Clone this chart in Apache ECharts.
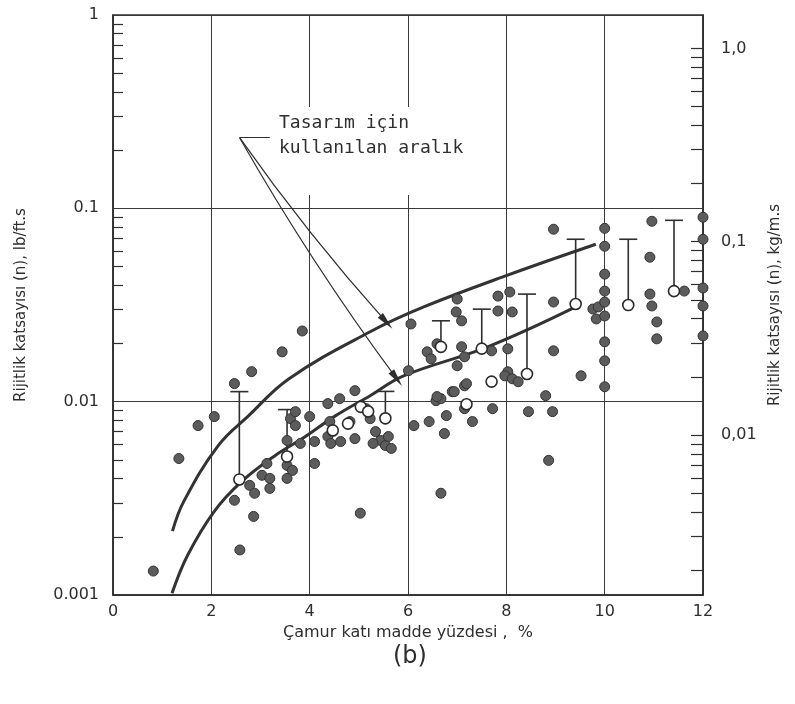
<!DOCTYPE html>
<html>
<head>
<meta charset="utf-8">
<script src="https://cdn.jsdelivr.net/npm/echarts@6/dist/echarts.min.js"></script>
<style>
  html, body { margin: 0; padding: 0; background: #fff; }
  #chart { width: 795px; height: 704px; }
</style>
</head>
<body>
<div id="chart"></div>
<script>
// Measured points (solids %, stiffness coefficient n in lb/ft.s)
const filledDots = [
  [0.82, 0.00133], [1.34, 0.00508], [1.73, 0.00752], [2.06, 0.00837], [2.47, 0.0124],
  [2.82, 0.0143], [3.44, 0.0181], [3.85, 0.0232], [2.47, 0.00309], [2.86, 0.00255],
  [2.58, 0.00171], [5.03, 0.00265], [2.78, 0.00369], [2.88, 0.00336], [3.03, 0.00416],
  [3.13, 0.00479], [3.19, 0.00401], [3.19, 0.00356], [3.54, 0.00468], [3.65, 0.00441],
  [3.54, 0.00401], [3.54, 0.0063], [3.81, 0.00608], [3.61, 0.00817], [3.71, 0.00888],
  [3.71, 0.00752], [4.00, 0.00837], [4.10, 0.00622], [4.10, 0.00479], [4.37, 0.00977],
  [4.37, 0.0066], [4.43, 0.00608], [4.41, 0.00789], [4.61, 0.01036], [4.92, 0.0114],
  [4.92, 0.00644], [4.63, 0.00622], [4.82, 0.00789], [5.15, 0.0092], [5.23, 0.00817],
  [5.34, 0.0070], [5.44, 0.0063], [5.54, 0.00593], [5.66, 0.00573], [5.60, 0.0066],
  [5.29, 0.00608], [6.12, 0.00752], [6.43, 0.00789], [6.78, 0.00847], [6.74, 0.00684],
  [6.90, 0.01127], [7.15, 0.01208], [6.57, 0.01012], [6.67, 0.01036], [7.31, 0.00789],
  [7.15, 0.0092], [7.72, 0.0092], [6.67, 0.00336], [8.80, 0.01074], [8.45, 0.00888],
  [8.94, 0.00888], [8.86, 0.00497], [10.0, 0.01194], [6.06, 0.02523], [6.01, 0.01445],
  [6.39, 0.0181], [6.47, 0.01667], [6.59, 0.01991], [7.00, 0.03396], [6.98, 0.02911],
  [7.09, 0.02618], [7.09, 0.01923], [7.15, 0.01706], [7.00, 0.01534], [7.70, 0.01832],
  [7.83, 0.03516], [7.83, 0.02944], [8.07, 0.0369], [8.12, 0.02911], [8.03, 0.01876],
  [8.03, 0.01428], [7.97, 0.01361], [8.12, 0.01314], [8.24, 0.01268], [7.19, 0.01239],
  [6.59, 0.01062], [6.94, 0.01127], [8.96, 0.07798], [8.96, 0.03276], [8.96, 0.01832],
  [9.52, 0.01361], [9.76, 0.03015], [9.87, 0.0309], [9.83, 0.02679], [10.0, 0.07881],
  [10.0, 0.06368], [10.0, 0.04567], [10.0, 0.03733], [10.0, 0.03276], [10.0, 0.02775],
  [10.0, 0.02039], [10.0, 0.01626], [10.96, 0.0857], [10.92, 0.05585], [10.92, 0.03603],
  [10.96, 0.03126], [11.06, 0.02585], [11.06, 0.02113], [11.62, 0.03733], [12.0, 0.0899],
  [12.0, 0.06918], [12.0, 0.03873], [12.0, 0.03126], [12.0, 0.02188]
];

// Mean values (open circles) and their upper range
const openDots = [
  [2.57, 0.00396], [3.54, 0.0052], [4.47, 0.0071], [4.78, 0.0077], [5.04, 0.0094],
  [5.19, 0.0089], [5.54, 0.0082], [6.67, 0.0192], [7.19, 0.0097], [7.50, 0.0188],
  [7.70, 0.0127], [8.42, 0.0139], [9.41, 0.032], [10.48, 0.0316], [11.41, 0.0373]
];
const whiskers = [
  [2.57, 0.00396, 0.01127], [3.54, 0.0052, 0.0091], [5.54, 0.0082, 0.0113],
  [6.67, 0.0192, 0.0262], [7.50, 0.0188, 0.0301], [8.42, 0.0139, 0.036],
  [9.41, 0.032, 0.0692], [10.48, 0.0316, 0.0692], [11.41, 0.0373, 0.0867]
];

// Design range bounds
const upperCurve = [
  [1.21, 0.00214], [1.44, 0.00305], [2.14, 0.00593], [2.76, 0.00847], [3.58, 0.01315],
  [5.23, 0.0230], [6.32, 0.0309], [7.97, 0.0446], [9.82, 0.0652]
];
const lowerCurve = [
  [1.20, 0.00102], [1.52, 0.00161], [2.06, 0.00271], [2.62, 0.00387], [3.30, 0.00527],
  [3.85, 0.00644], [4.53, 0.00847], [5.23, 0.01074], [5.91, 0.0136], [7.62, 0.0192],
  [9.41, 0.0309]
];

// Callout: leader and two arrows pointing at the curves
const calloutLeader = [[2.575, 0.232], [3.19, 0.232]];
const arrowToUpper = [[2.575, 0.232], [5.56, 0.0258]];
const arrowToLower = [[2.575, 0.232], [5.77, 0.01315]];

const xTicks = [0, 2, 4, 6, 8, 10, 12];
const leftMinorTicks = [
  0.002, 0.003, 0.004, 0.005, 0.006, 0.007, 0.008, 0.009,
  0.02, 0.03, 0.04, 0.05, 0.06, 0.07, 0.08, 0.09,
  0.2, 0.3, 0.4, 0.5, 0.6, 0.7, 0.8, 0.9
];
const rightTicks = [
  0.002, 0.003, 0.004, 0.005, 0.006, 0.007, 0.008, 0.009, 0.01,
  0.02, 0.03, 0.04, 0.05, 0.06, 0.07, 0.08, 0.09, 0.1,
  0.2, 0.3, 0.4, 0.5, 0.6, 0.7, 0.8, 0.9, 1.0
];
const rightLabels = [0.01, 0.1, 1.0];
const LB_TO_KG = 1.488; // 1 lb/ft.s = 1.488 kg/m.s

const FONT = 'DejaVu Sans';
const INK = '#2e2e2e';

const chart = echarts.init(document.getElementById('chart'));

function renderWhisker(params, api) {
  const x = api.value(0);
  const lo = api.coord([x, api.value(1)]);
  const hi = api.coord([x, api.value(2)]);
  const style = { stroke: INK, lineWidth: 1.6 };
  return {
    type: 'group',
    children: [
      { type: 'line', shape: { x1: lo[0], y1: lo[1], x2: hi[0], y2: hi[1] }, style: style },
      { type: 'line', shape: { x1: hi[0] - 9, y1: hi[1], x2: hi[0] + 9, y2: hi[1] }, style: style }
    ]
  };
}

const option = {
  backgroundColor: '#fff',
  animation: false,
  textStyle: { fontFamily: FONT, color: INK },
  title: {
    text: '(b)',
    left: 388,
    top: 640,
    textStyle: { fontFamily: FONT, fontSize: 24, fontWeight: 'normal', color: INK }
  },
  grid: {
    left: 113, right: 92, top: 15, bottom: 109,
    show: true, borderColor: INK, borderWidth: 1.5
  },
  xAxis: {
    type: 'value',
    min: 0, max: 12, interval: 2,
    name: 'Çamur katı madde yüzdesi ,  %',
    nameLocation: 'middle',
    nameGap: 28,
    nameTextStyle: { fontFamily: FONT, fontSize: 16, color: INK },
    axisLine: { show: true, lineStyle: { color: INK, width: 1.5 } },
    axisTick: { show: false },
    axisLabel: { fontFamily: FONT, fontSize: 16, color: INK, margin: 9 },
    splitLine: { show: true, lineStyle: { color: '#3a3a3a', width: 1 } }
  },
  yAxis: [
    {
      type: 'log',
      min: 0.001, max: 1,
      position: 'left',
      name: 'Rijitlik katsayısı (n), lb/ft.s',
      nameLocation: 'middle',
      nameGap: 84,
      nameRotate: 90,
      nameTextStyle: { fontFamily: FONT, fontSize: 15, color: INK },
      axisLine: { show: true, lineStyle: { color: INK, width: 1.5 } },
      axisTick: {
        show: true, inside: true, length: 10,
        customValues: leftMinorTicks,
        lineStyle: { color: INK, width: 1.2 }
      },
      axisLabel: { fontFamily: FONT, fontSize: 16, color: INK, margin: 14 },
      splitLine: { show: false }
    },
    {
      type: 'log',
      min: 0.001 * LB_TO_KG, max: 1 * LB_TO_KG,
      position: 'right',
      name: 'Rijitlik katsayısı (n), kg/m.s',
      nameLocation: 'middle',
      nameGap: 62,
      nameRotate: 90,
      nameTextStyle: { fontFamily: FONT, fontSize: 15, color: INK },
      axisLine: { show: true, lineStyle: { color: INK, width: 1.5 } },
      axisTick: {
        show: true, inside: true, length: 12,
        customValues: rightTicks,
        lineStyle: { color: INK, width: 1.2 }
      },
      axisLabel: {
        fontFamily: FONT, fontSize: 16, color: INK, margin: 18,
        customValues: rightLabels,
        formatter: function (v) {
          const n = Number(Number(v).toPrecision(3));
          return n >= 1 ? '1,0' : String(n).replace('.', ',');
        }
      },
      splitLine: { show: false }
    },
    {
      // decade gridlines only
      type: 'log',
      min: 0.001, max: 1,
      position: 'left',
      axisLine: { show: false },
      axisTick: { show: false },
      axisLabel: { show: false },
      splitLine: { show: true, lineStyle: { color: '#3a3a3a', width: 1 } }
    }
  ],
  series: [
    {
      name: 'upper',
      type: 'line',
      data: upperCurve,
      smooth: 0.4,
      showSymbol: false,
      lineStyle: { color: '#333', width: 3 },
      z: 3
    },
    {
      name: 'lower',
      type: 'line',
      data: lowerCurve,
      smooth: 0.4,
      showSymbol: false,
      lineStyle: { color: '#333', width: 3 },
      z: 3
    },
    {
      name: 'range',
      type: 'custom',
      renderItem: renderWhisker,
      data: whiskers,
      z: 4
    },
    {
      name: 'measured',
      type: 'scatter',
      data: filledDots,
      symbolSize: 10,
      itemStyle: { color: '#5c5c5c', borderColor: '#333', borderWidth: 1, opacity: 1 },
      z: 5
    },
    {
      name: 'mean',
      type: 'scatter',
      data: openDots,
      symbolSize: 11,
      itemStyle: { color: '#fff', borderColor: '#2a2a2a', borderWidth: 1.6, opacity: 1 },
      z: 6
    },
    {
      name: 'callout',
      type: 'lines',
      coordinateSystem: 'cartesian2d',
      symbol: ['none', 'none'],
      lineStyle: { color: INK, width: 1.2, opacity: 1 },
      data: [{ coords: calloutLeader }],
      z: 7
    },
    {
      name: 'arrows',
      type: 'lines',
      coordinateSystem: 'cartesian2d',
      symbol: ['none', 'triangle'],
      symbolSize: [1, [7, 18]],
      lineStyle: { color: INK, width: 1.2, opacity: 1, curveness: -0.03 },
      itemStyle: { color: INK },
      data: [{ coords: arrowToUpper }, { coords: arrowToLower }],
      z: 7
    }
  ],
  graphic: [
    {
      type: 'rect',
      left: 274, top: 107,
      shape: { width: 200, height: 88 },
      style: { fill: '#fff' },
      z: 1
    },
    {
      type: 'text',
      left: 279, top: 111,
      style: {
        text: 'Tasarım için\nkullanılan aralık',
        font: '18px "DejaVu Sans Mono"',
        fill: INK,
        lineHeight: 25
      },
      z: 8
    }
  ]
};

chart.setOption(option);
</script>
</body>
</html>
